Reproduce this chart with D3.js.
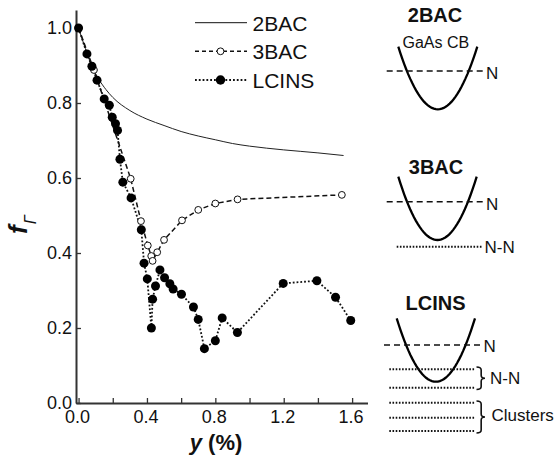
<!DOCTYPE html>
<html><head><meta charset="utf-8">
<script src="https://d3js.org/d3.v7.min.js"></script>
<style>
body{margin:0;background:#fff;}
svg{display:block;font-family:"Liberation Sans",Arial,sans-serif;}
</style></head>
<body><svg id="c" width="555" height="461"></svg>
<script>
// ---- data ----
const seriesNames = ["2BAC","3BAC","LCINS"];
const twoBacX = [0,0.04,0.08,0.12,0.16,0.2,0.3,0.4,0.5,0.6,0.7,0.8,0.9,1.0,1.2,1.4,1.55];
const twoBacY = [1.0,0.945,0.896,0.862,0.836,0.815,0.78,0.757,0.74,0.724,0.712,0.702,0.692,0.685,0.675,0.667,0.66];
const threeBacX = [0,0.09,0.305,0.365,0.405,0.425,0.433,0.46,0.50,0.605,0.70,0.80,0.93,1.54];
const threeBacY = [1.0,0.888,0.598,0.485,0.42,0.392,0.379,0.402,0.435,0.487,0.515,0.532,0.543,0.555];
const lcinsX = [0,0.049,0.078,0.108,0.15,0.18,0.197,0.216,0.228,0.242,0.259,0.307,0.367,0.383,0.402,0.426,0.433,0.45,0.476,0.503,0.534,0.553,0.602,0.672,0.70,0.736,0.80,0.84,0.929,1.197,1.394,1.503,1.592];
const lcinsY = [1.0,0.931,0.898,0.861,0.811,0.794,0.762,0.745,0.727,0.65,0.589,0.547,0.462,0.373,0.331,0.2,0.277,0.312,0.355,0.334,0.318,0.304,0.29,0.256,0.223,0.145,0.166,0.227,0.188,0.319,0.326,0.282,0.22];
const xTicks = [0,0.2,0.4,0.6,0.8,1.0,1.2,1.4,1.6];
const xTickLabels = ["0.0","","0.4","","0.8","","1.2","","1.6"];
const yTicks = [0,0.2,0.4,0.6,0.8,1.0];
const yTickLabels = ["0.0","0.2","0.4","0.6","0.8","1.0"];

const svg = d3.select("#c");
svg.append("rect").attr("width",555).attr("height",461).attr("fill","#fff");

const x = d3.scaleLinear().domain([-0.015,1.69]).range([76,367.5]);
const y = d3.scaleLinear().domain([0,1.048]).range([403,10]);

// axes
const xAxis = d3.axisBottom(x).tickValues(xTicks).tickSizeInner(-5).tickSizeOuter(0).tickPadding(7)
  .tickFormat((d,i)=>xTickLabels[i]);
const yAxis = d3.axisLeft(y).tickValues(yTicks).tickSizeInner(-5).tickSizeOuter(0).tickPadding(4)
  .tickFormat((d,i)=>yTickLabels[i]);
const gx = svg.append("g").attr("transform","translate(0,403)").call(xAxis);
const gy = svg.append("g").attr("transform","translate(76,0)").call(yAxis);
[gx,gy].forEach(g=>{
  g.select(".domain").attr("stroke","#333").attr("stroke-width",2);
  g.selectAll(".tick line").attr("stroke","#333").attr("stroke-width",1.3);
  g.selectAll(".tick text").attr("font-size",18).attr("fill","#111").attr("font-family","Liberation Sans, Arial, sans-serif");
});
gx.selectAll(".tick text").attr("dx",-1.5);

// axis titles
const xt = svg.append("text").attr("x",216).attr("y",450).attr("text-anchor","middle")
  .attr("font-size",22).attr("font-weight","bold").attr("fill","#111");
xt.append("tspan").attr("font-style","italic").text("y");
xt.append("tspan").text(" (%)");
const yt = svg.append("text").attr("transform","translate(27,234) rotate(-90)")
  .attr("fill","#111");
yt.append("tspan").attr("font-size",26).attr("font-weight","bold").attr("font-style","italic").text("f");
yt.append("tspan").attr("font-size",16).attr("font-style","italic").attr("dy",9).attr("dx",1).text("Γ");

// series
const line = d3.line().x(d=>x(d[0])).y(d=>y(d[1]));
const d2 = twoBacX.map((v,i)=>[v,twoBacY[i]]);
const d3b = threeBacX.map((v,i)=>[v,threeBacY[i]]);
const dl = lcinsX.map((v,i)=>[v,lcinsY[i]]);
svg.append("path").datum(d2).attr("d",line.curve(d3.curveMonotoneX)).attr("fill","none").attr("stroke","#222").attr("stroke-width",1);
const lineL = d3.line().x(d=>x(d[0])).y(d=>y(d[1]));
svg.append("path").datum(d3b).attr("d",lineL).attr("fill","none").attr("stroke","#111").attr("stroke-width",1.5).attr("stroke-dasharray","5,3");
svg.append("path").datum(dl).attr("d",lineL).attr("fill","none").attr("stroke","#111").attr("stroke-width",1.8).attr("stroke-dasharray","1.8,2");
svg.append("g").selectAll("circle").data(d3b).join("circle")
  .attr("cx",d=>x(d[0])).attr("cy",d=>y(d[1])).attr("r",3.4)
  .attr("fill","#fff").attr("stroke","#111").attr("stroke-width",1);
svg.append("g").selectAll("circle").data(dl).join("circle")
  .attr("cx",d=>x(d[0])).attr("cy",d=>y(d[1])).attr("r",4.5).attr("fill","#000");

// legend
const legY = [22.7,51.3,80];
const lg = svg.append("g");
seriesNames.forEach((n,i)=>{
  const yy = legY[i];
  const l = lg.append("line").attr("x1",195).attr("x2",247).attr("y1",yy).attr("y2",yy).attr("stroke","#111");
  if(i===0) l.attr("stroke-width",1);
  if(i===1) { l.attr("stroke-width",1.5).attr("stroke-dasharray","4,3");
    lg.append("circle").attr("cx",220.5).attr("cy",yy).attr("r",3.4).attr("fill","#fff").attr("stroke","#111"); }
  if(i===2) { l.attr("stroke-width",1.8).attr("stroke-dasharray","1.8,2");
    lg.append("circle").attr("cx",220.5).attr("cy",yy).attr("r",4.7).attr("fill","#000"); }
  lg.append("text").attr("x",252.5).attr("y",yy+8).attr("font-size",21).attr("fill","#111").text(n);
});

// schematic band diagrams
const panels = [
  {title:"2BAC", tx:435, ty:21.5, l:398.3, r:477.3, t:46.7, b:109.3,
   dash:{y:71,x1:386.7,x2:484,lx:486,ly:79}, dots:[], groups:[], sub:"GaAs CB"},
  {title:"3BAC", tx:436, ty:174, l:398.3, r:476.7, t:176.7, b:240,
   dash:{y:201.7,x1:386.7,x2:484,lx:486,ly:209.5}, dots:[246.7], dotsX:[396.7,482.7],
   groups:[{label:"N-N", lx:484.5, ly:252.5, brace:false}]},
  {title:"LCINS", tx:435.5, ty:310, l:396.7, r:475, t:318.3, b:381.7,
   dash:{y:345,x1:384,x2:482,lx:483.5,ly:351.5}, dots:[369.3,387.7,402.7,417.7,431], dotsX:[389.3,474.5],
   groups:[{label:"N-N", lx:490, ly:384, brace:[367,389.5]},{label:"Clusters", lx:491.5, ly:421, brace:[401,433]}]}
];
const pg = svg.append("g");
panels.forEach(p=>{
  pg.append("text").attr("x",p.tx).attr("y",p.ty).attr("text-anchor","middle").attr("font-size",20)
    .attr("font-weight","bold").attr("fill","#111").text(p.title);
  if(p.sub) pg.append("text").attr("x",402.5).attr("y",47.5).attr("font-size",16).attr("fill","#111").text(p.sub);
  const xs = d3.scaleLinear().domain([-1,1]).range([p.l,p.r]);
  const ys = d3.scaleLinear().domain([0,1]).range([p.b,p.t]);
  const pts = d3.range(-1,1.0001,0.05).map(u=>[u,u*u]);
  pg.append("path").attr("d",d3.line().x(d=>xs(d[0])).y(d=>ys(d[1]))(pts))
    .attr("fill","none").attr("stroke","#000").attr("stroke-width",2.3);
  pg.append("line").attr("x1",p.dash.x1).attr("x2",p.dash.x2).attr("y1",p.dash.y).attr("y2",p.dash.y)
    .attr("stroke","#111").attr("stroke-width",1.5).attr("stroke-dasharray","6,4");
  pg.append("text").attr("x",p.dash.lx).attr("y",p.dash.ly).attr("font-size",17).attr("fill","#111").text("N");
  p.dots.forEach(yy=>{
    pg.append("line").attr("x1",p.dotsX[0]).attr("x2",p.dotsX[1]).attr("y1",yy).attr("y2",yy)
      .attr("stroke","#111").attr("stroke-width",2).attr("stroke-dasharray","1.6,1.6");
  });
  p.groups.forEach(g=>{
    pg.append("text").attr("x",g.lx).attr("y",g.ly).attr("font-size",17).attr("fill","#111").text(g.label);
    if(g.brace){
      const x0=476.5, w=8.5, y0=g.brace[0], y1=g.brace[1], ym=(y0+y1)/2, r=3;
      const xm=x0+w*0.55;
      const path=`M${x0},${y0} Q${xm},${y0} ${xm},${y0+r} L${xm},${ym-r} Q${xm},${ym} ${x0+w},${ym} Q${xm},${ym} ${xm},${ym+r} L${xm},${y1-r} Q${xm},${y1} ${x0},${y1}`;
      pg.append("path").attr("d",path).attr("fill","none").attr("stroke","#111").attr("stroke-width",1.6);
    }
  });
});
</script></body></html>
